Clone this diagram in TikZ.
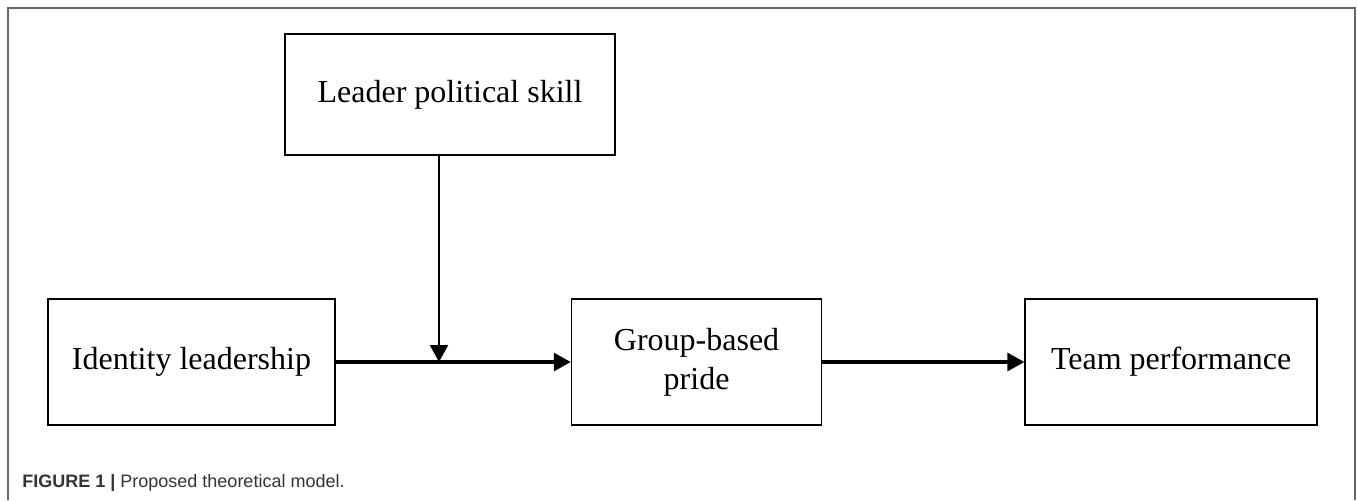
\documentclass[tikz,border=0pt]{standalone}
\usepackage{fontspec}
\setmainfont{Liberation Serif}
\newfontfamily\capfont{Liberation Sans}
\usetikzlibrary{arrows.meta, positioning}

\begin{document}
\begin{tikzpicture}[node distance=100pt]
      \tikzset{
  box/.style={
    rectangle, draw, line width=0.8pt, text centered, align=center,
    minimum height=63pt, inner sep=4pt,
    font=\fontsize{16}{19.5}\selectfont
  },
  arrow/.style={-{Triangle[length=8.5pt, width=9pt]}, line width=1.6pt},
  modarrow/.style={-{Triangle[length=8.5pt, width=9pt]}, line width=1.1pt},
  frameline/.style={draw=black!60, line width=1pt},
  caption/.style={font=\capfont\fontsize{9}{10}\selectfont, text=black!80,
    anchor=base west, inner sep=0pt},
}

\useasboundingbox (0,0) rectangle (678.5pt,-250pt);

%% ---- FRAME ----
\draw[frameline] (3.75pt,-250pt) -- (3.75pt,-4pt) -- (677.6pt,-4pt) -- (677.6pt,-250pt);

%% ---- BOXES ----
\node[box, minimum width=143.5pt] (identity) at (95.75pt,-181pt) {Identity leadership};
\node[box, minimum width=125pt, right=117.5pt of identity] (pride) {Group-based\\pride};
\node[box, minimum width=146pt, right=101pt of pride] (team) {Team performance};
\node[box, minimum width=165pt, minimum height=60.5pt] (leader) at (225pt,-47.25pt) {Leader political skill};

%% ---- PATHS ----
\draw[arrow] (identity) -- (pride);
\draw[arrow] (pride) -- (team);
\draw[modarrow] ([xshift=-5.5pt]leader.south) -- ([xshift=-5.5pt]leader.south |- identity.east);

%% ---- CAPTION ----
\node[caption] (cap) at (11pt,-243.5pt) {\textbf{FIGURE 1 |} Proposed theoretical model.};

    \end{tikzpicture}
\end{document}
